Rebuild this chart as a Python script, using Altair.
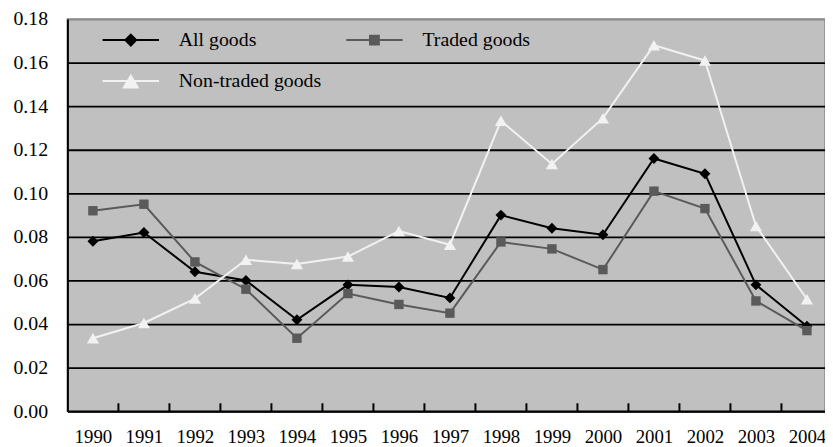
import altair as alt
import pandas as pd

years = list(range(1990, 2005))
all_goods = [0.078, 0.082, 0.064, 0.060, 0.042, 0.058, 0.057, 0.052, 0.090, 0.084, 0.081, 0.116, 0.109, 0.058, 0.039]
traded_goods = [0.092, 0.095, 0.0685, 0.056, 0.0335, 0.054, 0.049, 0.045, 0.0777, 0.0745, 0.065, 0.101, 0.093, 0.0506, 0.037]
non_traded_goods = [0.0335, 0.0405, 0.0517, 0.0695, 0.0676, 0.071, 0.0827, 0.0764, 0.1333, 0.1135, 0.1345, 0.168, 0.161, 0.085, 0.0514]

series_names = ["All goods", "Traded goods", "Non-traded goods"]
series_colors = ["#000000", "#5a5a5a", "#f2f2f2"]
series_shapes = ["diamond", "square", "triangle-up"]
series_sizes = [121, 90, 150]
y_ticks = [0.0, 0.02, 0.04, 0.06, 0.08, 0.10, 0.12, 0.14, 0.16, 0.18]

rows = []
for name, vals in zip(series_names, [all_goods, traded_goods, non_traded_goods]):
    for yr, v in zip(years, vals):
        rows.append({"year": yr, "value": v, "series": name})
df = pd.DataFrame(rows)
bounds_df = pd.DataFrame({"year": years[:-1]})

FONT = "Liberation Serif"
W, H = 765, 396

# legend symbol paths (line + marker)
P_DIAMOND = "M-1.46,0L1.46,0M0,-0.28L0.28,0L0,0.28L-0.28,0Z"
P_SQUARE = "M-1.46,0L1.46,0M-0.23,-0.23L0.23,-0.23L0.23,0.23L-0.23,0.23Z"
P_TRI = "M-1.46,0L1.46,0M0,-0.27L0.36,0.34L-0.36,0.34Z"
legend_paths = [P_DIAMOND, P_SQUARE, P_TRI]

color_scale = alt.Scale(domain=series_names, range=series_colors)
xscale = alt.Scale(domain=[1989.5, 2004.354], nice=False, zero=False)
yscale = alt.Scale(domain=[0, 0.18], nice=False, zero=False)

legend = alt.Legend(
    title=None, orient="none", legendX=43.5, legendY=0.5, columns=2, direction="horizontal",
    symbolSize=1521, symbolStrokeWidth=2, symbolOpacity=1, labelOffset=28, columnPadding=21,
    rowPadding=10.5, padding=0, labelFont=FONT, labelFontSize=20, labelColor="black",
)

x_enc = alt.X("year:Q", scale=xscale, axis=alt.Axis(
    values=years, format="d", title=None, grid=False, ticks=False, tickSize=0,
    labelFont=FONT, labelFontSize=19, labelColor="black", labelPadding=17,
    labelFlush=False, labelOverlap=False, domainColor="black", domainWidth=2))
y_enc = alt.Y("value:Q", scale=yscale, axis=alt.Axis(
    values=y_ticks, format=".2f", title=None, ticks=False, tickSize=0,
    labelFont=FONT, labelFontSize=20, labelColor="black", labelPadding=20,
    domainColor="black", domainWidth=2,
    gridColor=alt.condition("datum.value >= 0.179", alt.value("#8a8a8a"), alt.value("black")),
    gridWidth=1.8))

base = alt.Chart(df)

# invisible layer that only carries the legend (fill + stroke + custom line/marker symbol)
legend_layer = base.mark_point(filled=True, opacity=0, strokeWidth=2).encode(
    x=x_enc, y=y_enc,
    fill=alt.Fill("series:N", scale=alt.Scale(domain=series_names, range=series_colors), legend=legend),
    stroke=alt.Stroke("series:N", scale=alt.Scale(domain=series_names, range=series_colors), legend=legend),
    shape=alt.Shape("series:N", scale=alt.Scale(domain=series_names, range=legend_paths), legend=legend),
)

lines = base.mark_line(strokeWidth=2).encode(
    x=alt.X("year:Q", scale=xscale),
    y=alt.Y("value:Q", scale=yscale),
    color=alt.Color("series:N", scale=color_scale, legend=None),
    order=alt.Order("year:Q"),
)

point_layers = []
for name, shp, sz in zip(series_names, series_shapes, series_sizes):
    point_layers.append(
        base.transform_filter(alt.datum.series == name).mark_point(
            filled=True, opacity=1, shape=shp, size=sz).encode(
            x=alt.X("year:Q", scale=xscale),
            y=alt.Y("value:Q", scale=yscale),
            color=alt.Color("series:N", scale=color_scale, legend=None),
        )
    )

ticks = alt.Chart(bounds_df).transform_calculate(b="datum.year + 0.5").mark_rule(
    color="black", strokeWidth=2).encode(
    x=alt.X("b:Q", scale=xscale),
    y=alt.value(H - 8), y2=alt.value(H),
)

chart = alt.layer(legend_layer, lines, *point_layers, ticks).properties(
    width=W, height=H,
    autosize=alt.AutoSizeParams(type="none"),
    padding={"left": 60, "top": 9, "right": 0, "bottom": 34},
).configure(
    font=FONT, background="white",
    view=alt.ViewConfig(fill="#c0c0c0", stroke="#8a8a8a", strokeWidth=1.5),
)

chart.save("out.html", embed_options={"renderer": "svg", "actions": False})
